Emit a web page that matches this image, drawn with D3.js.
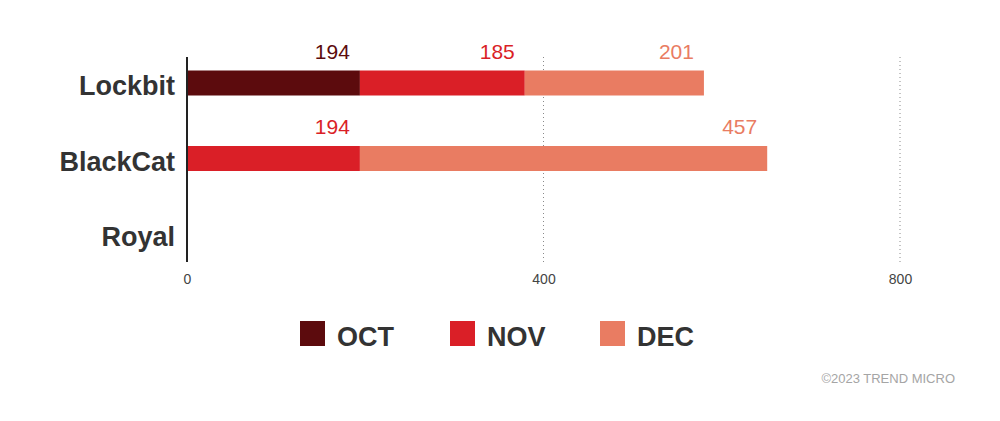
<!DOCTYPE html>
<html>
<head>
<meta charset="utf-8">
<script src="https://cdn.jsdelivr.net/npm/d3@7"></script>
<style>
  body { margin: 0; background: #fff; }
  text { font-family: "Liberation Sans", Arial, sans-serif; }
</style>
</head>
<body>
<svg id="vis" width="1000" height="421"></svg>
<script>
// data
const groups = ["Lockbit", "BlackCat", "Royal"];
const months = ["OCT", "NOV", "DEC"];
const octValues = [194, 0, 0];
const novValues = [185, 194, 0];
const decValues = [201, 457, 0];
const ticks = [0, 400, 800];
const colors = ["#5c0b0d", "#da1f27", "#e97c62"];

const svg = d3.select("svg#vis");

// build rows for the stack
const rows = groups.map(function(g, i) {
  return { group: g, OCT: octValues[i], NOV: novValues[i], DEC: decValues[i] };
});
const stacked = d3.stack().keys(months)(rows);

const x = d3.scaleLinear().domain([0, 800]).range([187, 900]);
const y = d3.scalePoint().domain(groups).range([83, 234]);
const color = d3.scaleOrdinal().domain(months).range(colors);
const barH = 25;

// dotted grid lines
svg.append("g").selectAll("line")
  .data(ticks.filter(t => t > 0))
  .enter()
  .append("line")
  .attr("x1", d => x(d)).attr("x2", d => x(d))
  .attr("y1", 57).attr("y2", 262)
  .attr("stroke", "#8a8a8a")
  .attr("stroke-width", 1)
  .attr("stroke-dasharray", "1,3");

// bars
const layers = svg.append("g").selectAll("g")
  .data(stacked)
  .enter()
  .append("g")
  .attr("fill", d => color(d.key));

layers.selectAll("rect")
  .data(d => d)
  .enter()
  .append("rect")
  .attr("x", d => x(d[0]))
  .attr("y", d => y(d.data.group) - barH / 2)
  .attr("width", d => x(d[1]) - x(d[0]))
  .attr("height", barH);

// value labels above each segment end
const labels = svg.append("g").selectAll("g")
  .data(stacked)
  .enter()
  .append("g")
  .attr("fill", d => color(d.key));

labels.selectAll("text")
  .data(d => d.filter(s => s[1] - s[0] > 0))
  .enter()
  .append("text")
  .attr("x", d => x(d[1]) - 10)
  .attr("y", d => y(d.data.group) - barH / 2 - 12)
  .attr("text-anchor", "end")
  .style("font-size", "21px")
  .text(d => d[1] - d[0]);

// vertical axis line
svg.append("line")
  .attr("x1", x(0)).attr("x2", x(0))
  .attr("y1", 57).attr("y2", 262)
  .attr("stroke", "#222")
  .attr("stroke-width", 2);

// category labels
svg.append("g").selectAll("text")
  .data(groups)
  .enter()
  .append("text")
  .attr("x", 175)
  .attr("y", d => y(d) + 12)
  .attr("text-anchor", "end")
  .attr("fill", "#333")
  .style("font-size", "27px")
  .style("font-weight", "bold")
  .text(d => d);

// bottom tick labels
const xAxis = d3.axisBottom(x).tickValues(ticks).tickSize(0).tickPadding(0);
const axisG = svg.append("g")
  .attr("transform", "translate(0,274)")
  .call(xAxis);
axisG.select(".domain").remove();
axisG.selectAll("text")
  .attr("fill", "#444")
  .style("font-size", "14px")
  .style("font-family", "Liberation Sans, Arial, sans-serif");

// legend
const legend = svg.append("g").selectAll("g")
  .data(months)
  .enter()
  .append("g")
  .attr("transform", (d, i) => "translate(" + (300 + i * 150) + ",321)");

legend.append("rect")
  .attr("width", 25)
  .attr("height", 25)
  .attr("fill", d => color(d));

legend.append("text")
  .attr("x", 37)
  .attr("y", 25)
  .attr("fill", "#333")
  .style("font-size", "27px")
  .style("font-weight", "bold")
  .text(d => d);

// credit
svg.append("text")
  .attr("x", 955)
  .attr("y", 383)
  .attr("text-anchor", "end")
  .attr("fill", "#a5a5a5")
  .style("font-size", "13px")
  .text("\u00a92023 TREND MICRO");
</script>
</body>
</html>
